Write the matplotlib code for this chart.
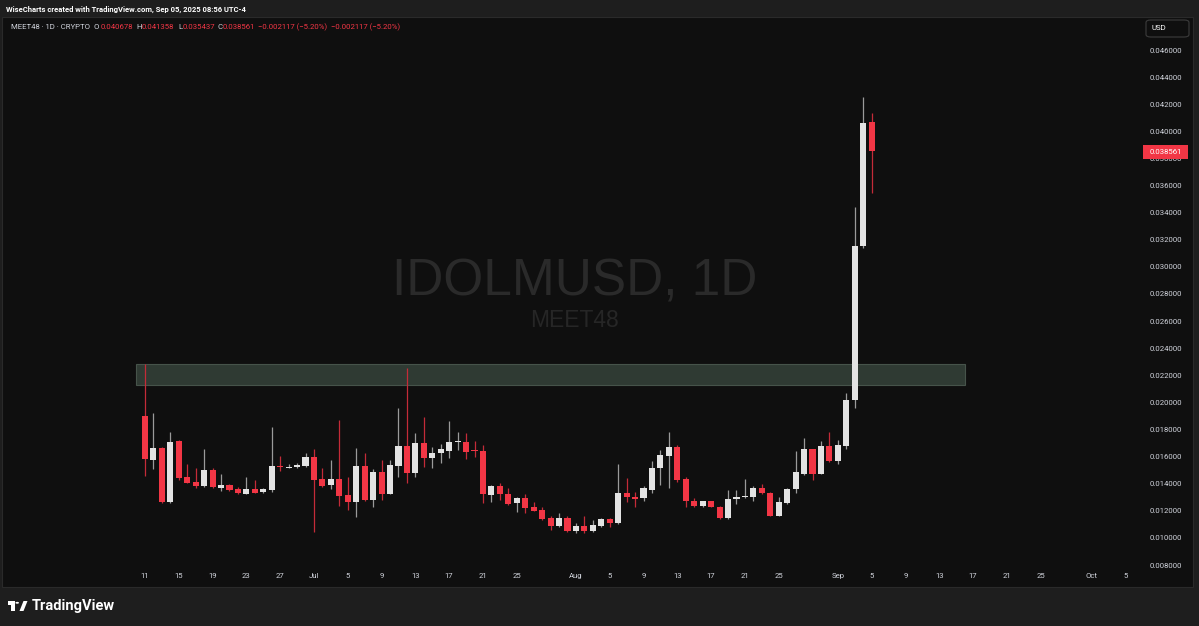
import numpy as np
import pandas as pd
import matplotlib.pyplot as plt
import matplotlib.dates as mdates
from matplotlib.patches import Rectangle, FancyBboxPatch, Polygon, Circle

# daily candles MEET48 / IDOLMUSD, 2025-06-11 .. 2025-09-05
opens = [0.01900, 0.01575, 0.01661, 0.01267, 0.01715, 0.01447, 0.01413, 0.01383, 0.01501, 0.01370,
         0.01393, 0.01361, 0.01326, 0.01363, 0.01337, 0.01353, 0.01525, 0.01518, 0.01521, 0.01531,
         0.01599, 0.01432, 0.01390, 0.01437, 0.01317, 0.01267, 0.01531, 0.01280, 0.01489, 0.01324,
         0.01531, 0.01678, 0.01477, 0.01699, 0.01592, 0.01624, 0.01643, 0.01706, 0.01710, 0.01647,
         0.01643, 0.01317, 0.01383, 0.01324, 0.01255, 0.01297, 0.01226, 0.01206, 0.01149, 0.01088,
         0.01145, 0.01051, 0.01088, 0.01051, 0.01088, 0.01139, 0.01108, 0.01329, 0.01304, 0.01292,
         0.01353, 0.01514, 0.01607, 0.01671, 0.01437, 0.01275, 0.01235, 0.01272, 0.01230, 0.01147,
         0.01285, 0.01302, 0.01304, 0.01370, 0.01334, 0.01164, 0.01255, 0.01359, 0.01472, 0.01654,
         0.01472, 0.01678, 0.01568, 0.01680, 0.02018, 0.03157, 0.040678]
highs = [0.02283, 0.01924, 0.01671, 0.01779, 0.01722, 0.01545, 0.01514, 0.01658, 0.01514, 0.01472,
         0.01398, 0.01378, 0.01452, 0.01427, 0.01370, 0.01821, 0.01604, 0.01545, 0.01551, 0.01624,
         0.01654, 0.01514, 0.01575, 0.01870, 0.01447, 0.01666, 0.01629, 0.01506, 0.01575, 0.01575,
         0.01956, 0.02252, 0.01772, 0.01890, 0.01669, 0.01693, 0.01863, 0.01782, 0.01777, 0.01717,
         0.01686, 0.01390, 0.01407, 0.01366, 0.01302, 0.01322, 0.01263, 0.01230, 0.01162, 0.01186,
         0.01162, 0.01112, 0.01162, 0.01132, 0.01145, 0.01149, 0.01545, 0.01440, 0.01341, 0.01383,
         0.01568, 0.01649, 0.01782, 0.01686, 0.01452, 0.01297, 0.01276, 0.01276, 0.01235, 0.01353,
         0.01353, 0.01432, 0.01385, 0.01398, 0.01338, 0.01304, 0.01366, 0.01643, 0.01740, 0.01658,
         0.01715, 0.01782, 0.01722, 0.02067, 0.03445, 0.04256, 0.041358]
lows = [0.01457, 0.01506, 0.01255, 0.01258, 0.01427, 0.01405, 0.01366, 0.01376, 0.01368, 0.01348,
        0.01346, 0.01324, 0.01324, 0.01328, 0.01331, 0.01341, 0.01494, 0.01516, 0.01516, 0.01523,
        0.01046, 0.01376, 0.01359, 0.01235, 0.01206, 0.01156, 0.01272, 0.01230, 0.01280, 0.01324,
        0.01452, 0.01407, 0.01452, 0.01521, 0.01514, 0.01551, 0.01587, 0.01649, 0.01580, 0.01599,
        0.01255, 0.01267, 0.01280, 0.01243, 0.01193, 0.01186, 0.01199, 0.01132, 0.01058, 0.01080,
        0.01044, 0.01034, 0.01038, 0.01044, 0.01080, 0.01083, 0.01103, 0.01263, 0.01230, 0.01275,
        0.01334, 0.01390, 0.01366, 0.01415, 0.01226, 0.01228, 0.01230, 0.01225, 0.01143, 0.01143,
        0.01250, 0.01298, 0.01275, 0.01325, 0.01162, 0.01162, 0.01250, 0.01329, 0.01464, 0.01427,
        0.01468, 0.01560, 0.01545, 0.01656, 0.01956, 0.03137, 0.035437]
closes = [0.01582, 0.01661, 0.01267, 0.01710, 0.01440, 0.01407, 0.01383, 0.01501, 0.01373, 0.01393,
          0.01353, 0.01329, 0.01363, 0.01334, 0.01359, 0.01528, 0.01521, 0.01525, 0.01538, 0.01597,
          0.01427, 0.01385, 0.01435, 0.01309, 0.01267, 0.01531, 0.01280, 0.01489, 0.01324, 0.01538,
          0.01678, 0.01477, 0.01699, 0.01587, 0.01629, 0.01654, 0.01706, 0.01715, 0.01636, 0.01641,
          0.01322, 0.01383, 0.01324, 0.01250, 0.01297, 0.01218, 0.01201, 0.01142, 0.01088, 0.01145,
          0.01051, 0.01088, 0.01051, 0.01093, 0.01137, 0.01108, 0.01329, 0.01299, 0.01289, 0.01366,
          0.01518, 0.01612, 0.01671, 0.01427, 0.01272, 0.01235, 0.01272, 0.01230, 0.01147, 0.01289,
          0.01304, 0.01309, 0.01368, 0.01329, 0.01164, 0.01263, 0.01363, 0.01484, 0.01654, 0.01472,
          0.01678, 0.01568, 0.01688, 0.02018, 0.03157, 0.04064, 0.038561]
first_day = '2025-06-11'

tick_dates = ['2025-06-11', '2025-06-15', '2025-06-19', '2025-06-23', '2025-06-27', '2025-07-01',
              '2025-07-05', '2025-07-09', '2025-07-13', '2025-07-17', '2025-07-21', '2025-07-25',
              '2025-08-01', '2025-08-05', '2025-08-09', '2025-08-13', '2025-08-17', '2025-08-21',
              '2025-08-25', '2025-09-01', '2025-09-05', '2025-09-09', '2025-09-13', '2025-09-17',
              '2025-09-21', '2025-09-25', '2025-10-01', '2025-10-05']
tick_labels = ['11', '15', '19', '23', '27', 'Jul', '5', '9', '13', '17', '21', '25',
               'Aug', '5', '9', '13', '17', '21', '25', 'Sep', '5', '9', '13', '17', '21', '25',
               'Oct', '5']
price_ticks = [0.008, 0.010, 0.012, 0.014, 0.016, 0.018, 0.020, 0.022, 0.024, 0.026,
               0.028, 0.030, 0.032, 0.034, 0.036, 0.038, 0.040, 0.042, 0.044, 0.046]

zone_start, zone_end = '2025-06-09 22:20', '2025-09-16 01:00'
zone_low, zone_high = 0.02128, 0.02283
last_price = 0.038561

W, H = 1199, 626
BG = '#0f0f0f'
FRAME = '#1e1e1e'
UP, UP_WICK = '#e3e3e3', '#9a9a9a'
DN, DN_WICK = '#f23645', '#c42b38'
TXT = '#d1d4dc'

plt.rcParams['font.family'] = ['Roboto', 'DejaVu Sans']

fig = plt.figure(figsize=(W / 100, H / 100), dpi=100, facecolor=FRAME)


def fx(px):
    return px / W


def fy(py):
    return 1 - py / H


# chart panel (behind everything)
fig.patches.append(Rectangle((fx(2), fy(587)), fx(1191), 570 / H, transform=fig.transFigure,
                             facecolor=BG, edgecolor='#2a2a2a', lw=0.8, zorder=-2))

ax = fig.add_axes([fx(3), fy(567), fx(1140), 549 / H])
ax.set_zorder(1)
ax.set_facecolor('none')
for s in ax.spines.values():
    s.set_visible(False)

x0 = mdates.date2num(pd.Timestamp(first_day))
ax.set_xlim(x0 - 16.80, x0 + 118.11)
ax.set_ylim(0.0078524, 0.0483686)

# resistance zone
zs = mdates.date2num(pd.Timestamp(zone_start))
ze = mdates.date2num(pd.Timestamp(zone_end))
ax.add_patch(Rectangle((zs, zone_low), ze - zs, zone_high - zone_low,
                       facecolor='#2f3a33', edgecolor='#46534a', lw=0.8, zorder=1))

# candles
dates = pd.date_range(first_day, periods=len(opens), freq='D')
x = mdates.date2num(dates)
o, h, l, c = (np.array(v) for v in (opens, highs, lows, closes))
up = c >= o
lo = np.minimum(o, c)
bh = np.maximum(np.abs(c - o), 0.00007)
ax.vlines(x[up], l[up], h[up], color=UP_WICK, lw=0.9, zorder=2)
ax.vlines(x[~up], l[~up], h[~up], color=DN_WICK, lw=0.9, zorder=2)
ax.bar(x[up], bh[up], bottom=lo[up], width=0.72, color=UP, lw=0, zorder=3)
ax.bar(x[~up], bh[~up], bottom=lo[~up], width=0.72, color=DN, lw=0, zorder=3)

# axes ticks
ax.set_xticks(mdates.date2num(pd.to_datetime(tick_dates)))
ax.set_xticklabels(tick_labels)
ax.yaxis.tick_right()
ax.set_yticks(price_ticks)
ax.set_yticklabels([f'{v:.6f}' for v in price_ticks])
ax.tick_params(axis='x', length=0, pad=4.5, labelsize=5.6, labelcolor=TXT)
ax.tick_params(axis='y', length=0, pad=5, labelsize=5.6, labelcolor=TXT)

# watermark
fig.text(fx(575), fy(295), 'IDOLMUSD, 1D', ha='center', va='baseline', fontsize=37,
         color='#2a2a2a', family='Liberation Sans', zorder=-1)
fig.text(fx(575), fy(327), 'MEET48', ha='center', va='baseline', fontsize=16.5,
         color='#262626', family='Liberation Sans', zorder=-1)

# last price tag
fig.patches.append(Rectangle((fx(1143), fy(159)), fx(45), 14 / H, transform=fig.transFigure,
                             facecolor=DN, edgecolor='none', zorder=5))
fig.text(fx(1165.5), fy(152), f'{last_price:.6f}', ha='center', va='center', fontsize=5.6,
         color='white', zorder=6)

# USD box
fig.patches.append(FancyBboxPatch((fx(1146), fy(37)), fx(43), 17 / H, transform=fig.transFigure,
                                  boxstyle='round,pad=0,rounding_size=0.004',
                                  facecolor=BG, edgecolor='#3c3c3c', lw=0.8, zorder=5))
fig.text(fx(1152), fy(28.5), 'USD', ha='left', va='center', fontsize=5.6, color='white', zorder=6)

# header line
fig.text(fx(6), fy(9), 'WiseCharts created with TradingView.com, Sep 05, 2025 08:56 UTC-4',
         ha='left', va='center', fontsize=5.5, fontweight='bold', color='white')

# OHLC legend line
ty = fy(27)
fig.text(fx(11), ty, 'MEET48 · 1D · CRYPTO', ha='left', va='center', fontsize=5.6, color=TXT)
legend_parts = [(94, 'O', TXT), (100.5, '0.040678', DN), (136.5, 'H', TXT), (142, '0.041358', DN),
                (178, 'L', TXT), (182.5, '0.035437', DN), (217.5, 'C', TXT), (223, '0.038561', DN),
                (258, '\u22120.002117 (\u22125.20%)', DN), (331, '\u22120.002117 (\u22125.20%)', DN)]
for px, s, col in legend_parts:
    fig.text(fx(px), ty, s, ha='left', va='center', fontsize=5.6, color=col)

# TradingView footer logo
logo_l = [(8, 601), (14.5, 601), (14.5, 611), (11, 611), (11, 604.5), (8, 604.5)]
logo_r = [(19.5, 611), (23.5, 601), (27.5, 601), (23.5, 611)]
for pts in (logo_l, logo_r):
    fig.patches.append(Polygon([(fx(a), fy(b)) for a, b in pts], closed=True,
                               transform=fig.transFigure, facecolor='white', edgecolor='none'))
fig.patches.append(Circle((fx(17.2), fy(602.8)), fx(1.8), transform=fig.transFigure,
                          facecolor='white', edgecolor='none'))
fig.text(fx(32), fy(606), 'TradingView', ha='left', va='center', fontsize=10.5,
         fontweight='bold', color='white')

fig.savefig('out.png', dpi=100, facecolor=FRAME)
